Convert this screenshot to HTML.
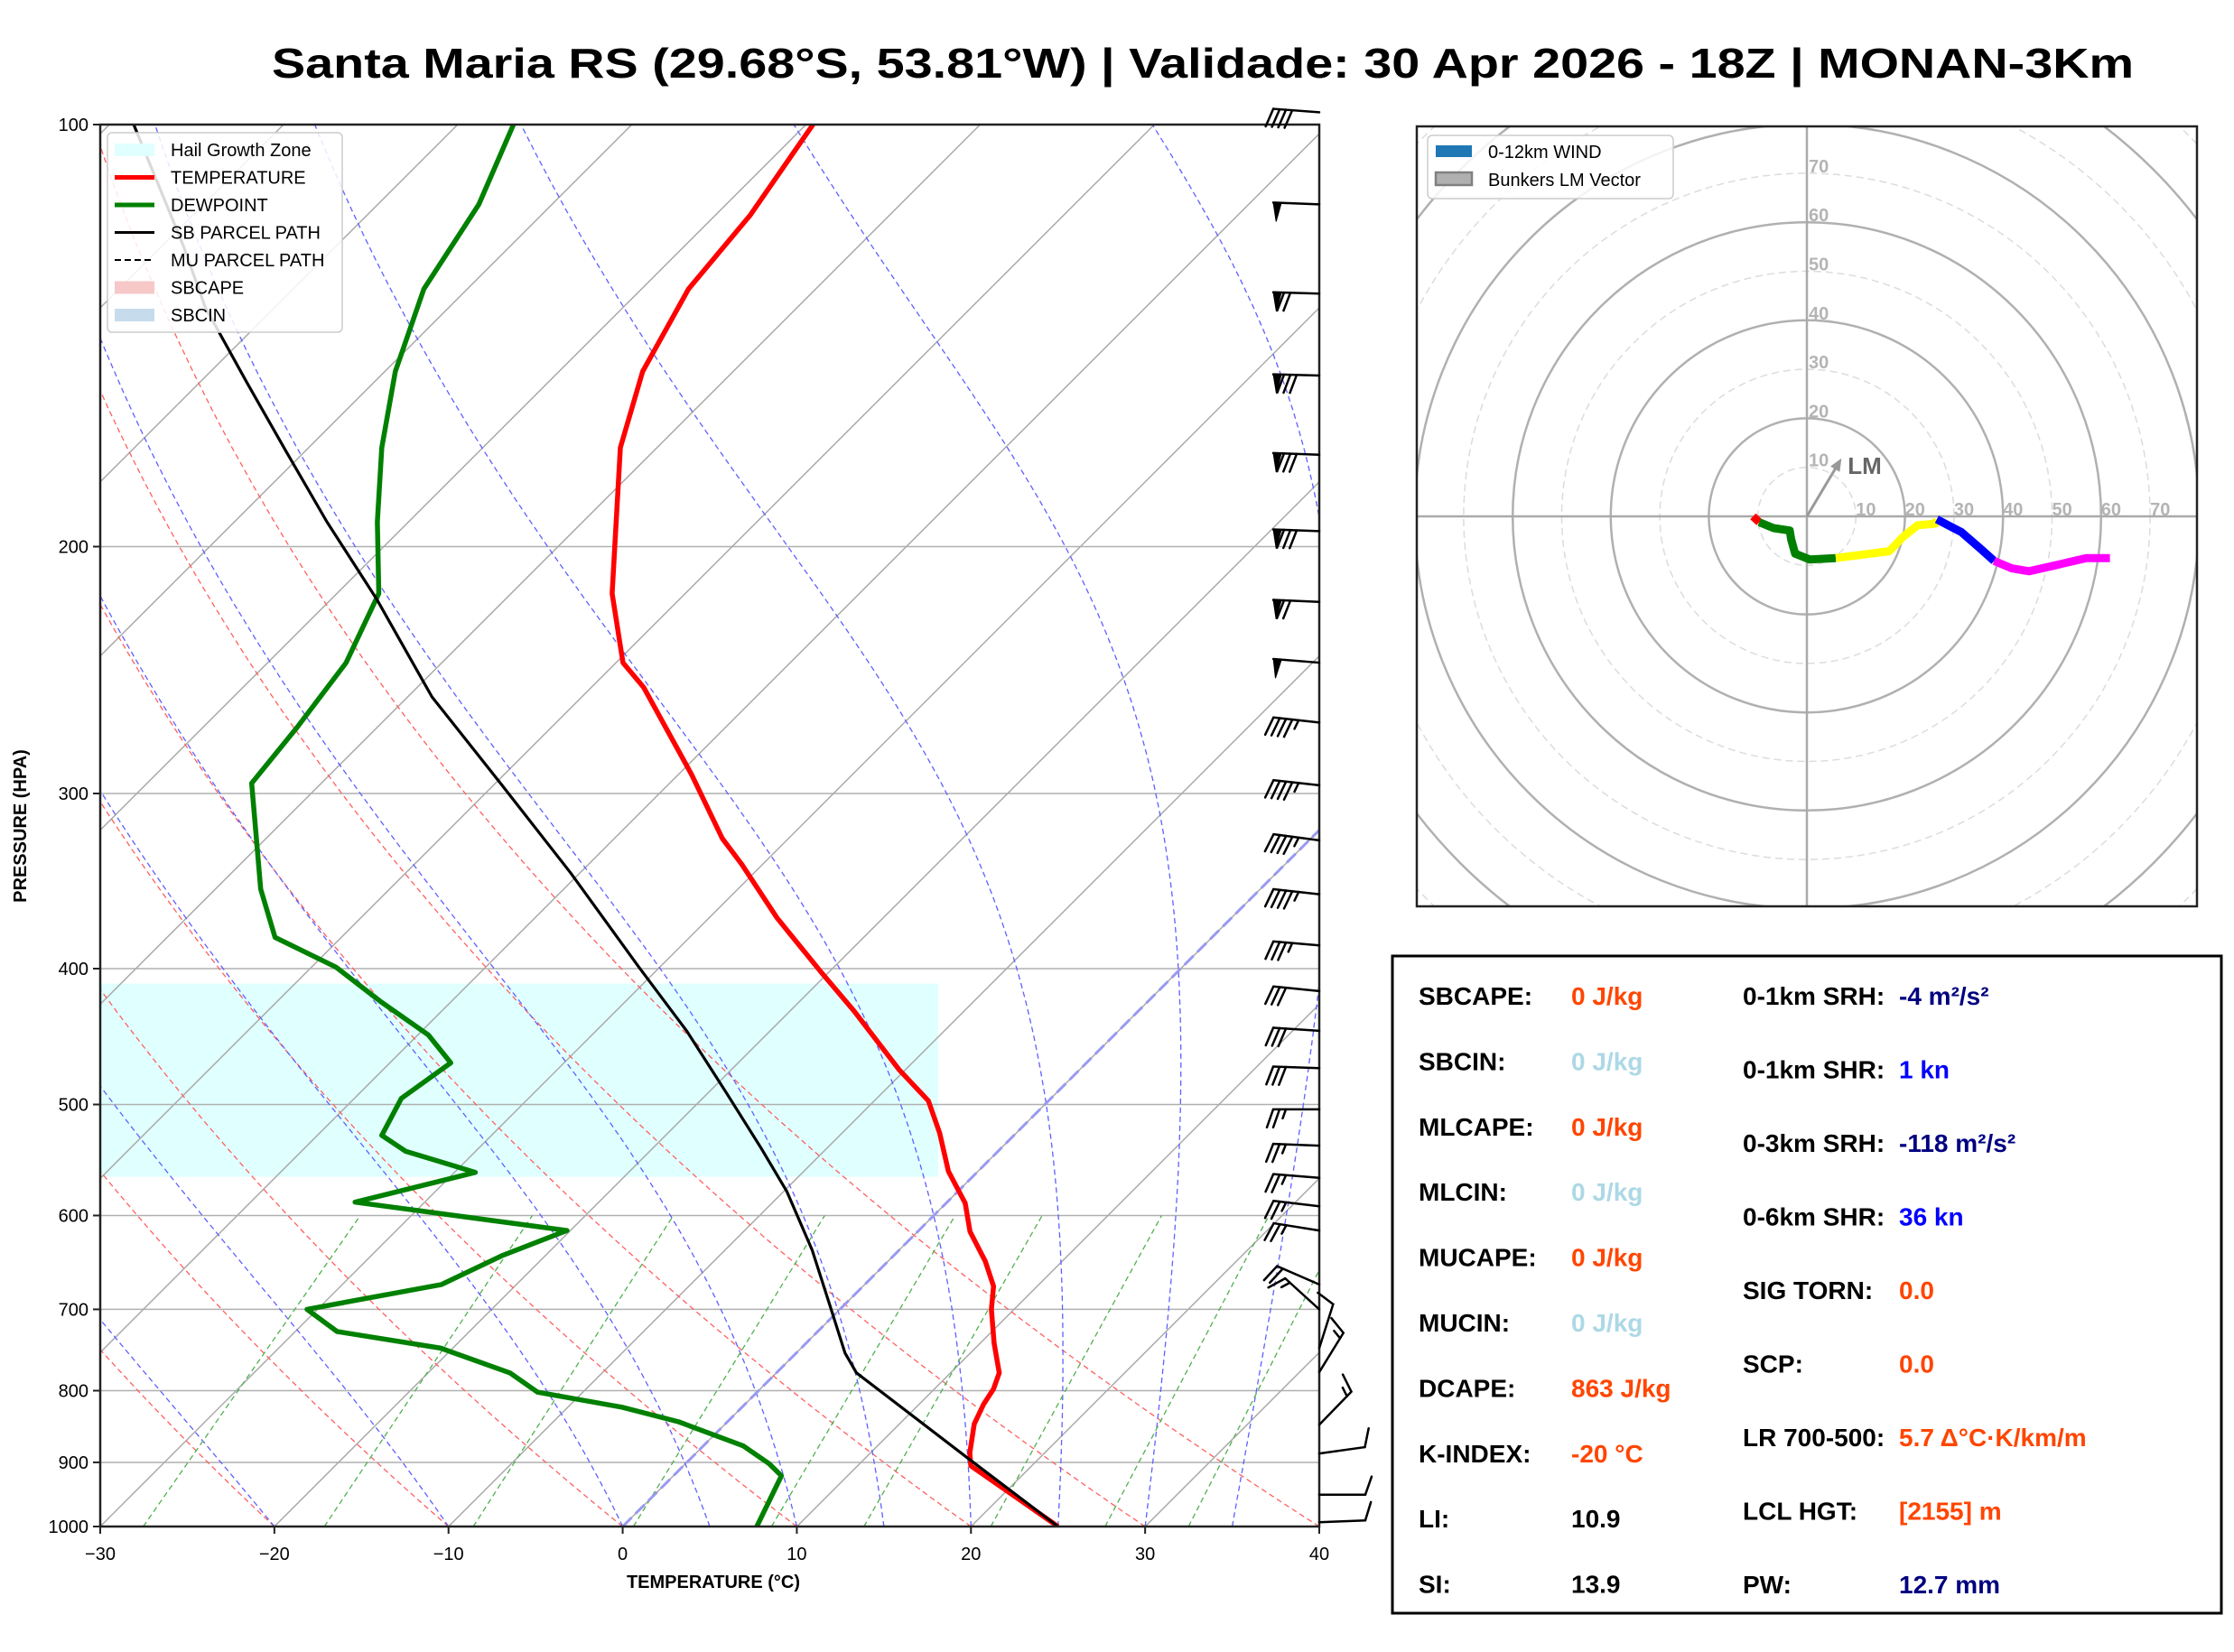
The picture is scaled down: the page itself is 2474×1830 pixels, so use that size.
<!DOCTYPE html>
<html><head><meta charset="utf-8"><style>
html,body{margin:0;padding:0;background:#fff;}
svg{display:block;font-family:"Liberation Sans","DejaVu Sans",sans-serif;}
</style></head><body>
<svg id="fig" width="2474" height="1830" viewBox="0 0 2474 1830" xmlns="http://www.w3.org/2000/svg">
<defs>
<clipPath id="skclip"><rect x="111" y="138" width="1350" height="1553"/></clipPath>
<clipPath id="hoclip"><rect x="1569" y="140" width="864" height="864"/></clipPath>
</defs>
<text x="301" y="86" font-size="46" font-weight="bold" textLength="2062" lengthAdjust="spacingAndGlyphs">Santa Maria RS (29.68°S, 53.81°W) | Validade: 30 Apr 2026 - 18Z | MONAN-3Km</text>
<g id="skew"></g>
<g id="hodo"></g>
<g id="table">
<rect x="1542" y="1059" width="918" height="728" fill="#fff" stroke="#000" stroke-width="3"/>
</g>
</svg>
<script>
// ---- data ----
const tempP=[1000,905,886,845,818,798,777,740,700,674,647,616,588,558,524,497,472,429,402,368,337,323,291,252,242,216,170,150,131,116,100];
const tempT=[25,16.5,15.7,14.3,13.7,13.4,12.8,10.8,8.7,7.5,5.6,3.0,1.1,-1.7,-4.4,-6.9,-10.4,-16.3,-20.5,-26.1,-31.2,-33.8,-39.2,-47.0,-49.6,-54.2,-62.1,-65.2,-67.3,-68.0,-69.6];
const dewP=[1000,920,902,876,842,822,802,777,746,726,700,672,641,615,587,559,540,526,495,467,446,422,399,380,351,295,269,242,216,192,170,150,131,114,100];
const dewT=[7.7,6.2,4.8,2.3,-2.8,-6.9,-12.6,-15.3,-20.7,-27.6,-30.6,-24.3,-22.5,-20.2,-34.0,-28.8,-34.0,-36.3,-37.3,-36.5,-39.4,-44.1,-48.6,-53.8,-57.4,-64.0,-64.6,-65.5,-67.6,-71.8,-75.8,-79.4,-82.5,-84.2,-86.8];
const parcelP=[1000,895,777,752,694,635,577,537,491,443,399,342,296,256,218,192,171,153,135,122,100];
const parcelT=[25,16.0,4.6,2.8,-0.9,-5.0,-9.8,-13.8,-18.9,-24.8,-31.2,-40.5,-49.5,-58.6,-67.4,-74.7,-81.1,-87.2,-94.0,-98.8,-108.6];
const barbP=[98,114,132,151,172,195,219,242,267,296,324,354,385,415,443,471,504,535,564,591,615,672,700,746,776,846,887,949,993];
const barbU=[40,50,70,80,80,80,70,50,45,45,45,45,35,30,30,30,25,25,25,25,25,18.4,11,-3,-8,-10.5,-10,-10,-10];
const barbV=[-3,-2,-2,-2,-3,-3,-3,-4,-5,-5,-6,-5,-3,-3,-2,-1,0,-1,-2,-3,-4,-8,-10,-9.5,-13,-10.8,-1.4,0,-0.4];
const pTicks=[100,200,300,400,500,600,700,800,900,1000];
const tTicks=[-30,-20,-10,0,10,20,30,40];
const hailTop=410, hailBot=563;
const hodoRed=[[-11,0],[-9.7,-1.2]];
const hodoGreen=[[-9.7,-1.2],[-6.8,-2.4],[-3.5,-2.9],[-3.2,-4.7],[-2.4,-7.6],[0.6,-8.8],[5.9,-8.5]];
const hodoYellow=[[5.9,-8.5],[16.8,-7.1],[19.7,-4.1],[22.6,-1.8],[26.2,-1.5],[26.5,-0.6]];
const hodoBlue=[[26.5,-0.6],[31.5,-3.2],[35.3,-6.5],[38.2,-9.1]];
const hodoMagenta=[[38.2,-9.1],[41.8,-10.6],[45.3,-11.2],[50.6,-10],[57,-8.5],[61.8,-8.5]];
const lmVec=[6.5,10.9];
const ringLabels=[10,20,30,40,50,60,70];

const NS="http://www.w3.org/2000/svg";
function mk(tag,attrs,parent){const e=document.createElementNS(NS,tag);for(const k in attrs)e.setAttribute(k,attrs[k]);parent.appendChild(e);return e;}
// ---- skew-T axes ----
const X0=111,X1=1461,Y0=138,Y1=1691,PXC=(X1-X0)/70,PH=Y1-Y0;
function yP(p){return Y1-PH*Math.log10(1000/p);}
function xTP(t,p){return X0+(t+30)*PXC+(Y1-yP(p));}
function pathTP(P,T){return P.map((p,i)=>(i?'L':'M')+xTP(T[i],p).toFixed(1)+','+yP(p).toFixed(1)).join('');}
const sk=document.getElementById('skew');
const bg=mk('g',{'clip-path':'url(#skclip)'},sk);


const hz=mk('rect',{x:X0,y:yP(hailTop),width:1039-X0,height:yP(hailBot)-yP(hailTop),fill:'#e0ffff'},bg);


pTicks.forEach(p=>{const l=mk('line',{x1:X0,x2:X1,y1:yP(p),y2:yP(p),stroke:'#b0b0b0','stroke-width':1.5},bg);

});
for(let t=-130;t<=40;t+=10){const l=mk('line',{x1:xTP(t,1000),y1:yP(1000),x2:xTP(t,100),y2:yP(100),stroke:'#aaa','stroke-width':1.5},bg);

}
const prs=[];for(let p=1000;p>=100;p-=10)prs.push(p);
for(let t0=-40;t0<=40;t0+=10){const T=prs.map(p=>(t0+273.15)*Math.pow(p/1000,0.2857)-273.15);
const l=mk('path',{d:pathTP(prs,T),fill:'none',stroke:'#ff6060','stroke-width':1.3,'stroke-dasharray':'6,4'},bg);

}
[-30,-20,-10,0,5,10,15,20,25,30,35,40,45].forEach(t0=>{let T=t0+273.15;const P=[],TT=[];
for(let p=1000;p>=100;p-=5){P.push(p);TT.push(T-273.15);
const es=6.112*Math.exp(17.67*(T-273.15)/(T-29.65));const rs=0.622*es/(p-es);
const d=(287*T+2.5e6*rs)/(1005+2.5e6*2.5e6*rs*0.622/(287*T*T))/p;T+=d*(-5);}
const l=mk('path',{d:pathTP(P,TT),fill:'none',stroke:'#6060ff','stroke-width':1.3,'stroke-dasharray':'6,4'},bg);

});
[0.0004,0.001,0.002,0.004,0.007,0.01,0.016,0.024,0.032].forEach(w=>{const P=[1000,600];
const T=P.map(p=>{const e=p*w/(0.622+w);const a=Math.log(e/6.112);return 243.5*a/(17.67-a);});
const l=mk('path',{d:pathTP(P,T),fill:'none',stroke:'#50b050','stroke-width':1.3,'stroke-dasharray':'6,4'},bg);

});
const z=mk('line',{x1:xTP(0,1000),y1:Y1,x2:xTP(0,100),y2:Y0,stroke:'#9a9af0','stroke-width':3,'stroke-dasharray':'14,6'},bg);


const tl=mk('path',{d:pathTP(tempP,tempT),fill:'none',stroke:'#ff0000','stroke-width':5.5,'stroke-linejoin':'round'},bg);


const dl=mk('path',{d:pathTP(dewP,dewT),fill:'none',stroke:'#008000','stroke-width':5.5,'stroke-linejoin':'round'},bg);


const pl=mk('path',{d:pathTP(parcelP,parcelT),fill:'none',stroke:'#000','stroke-width':3.2,'stroke-linejoin':'round'},bg);


const ml=mk('path',{d:pathTP(parcelP,parcelT),fill:'none',stroke:'#000','stroke-width':1.6,'stroke-dasharray':'6,4'},bg);


const fr=mk('rect',{x:X0,y:Y0,width:X1-X0,height:PH,fill:'none',stroke:'#222','stroke-width':2.5},sk);


pTicks.forEach(p=>{mk('line',{x1:X0-8,x2:X0,y1:yP(p),y2:yP(p),stroke:'#222','stroke-width':2},sk);
const t=mk('text',{x:98,y:yP(p)+7,'font-size':20,'text-anchor':'end'},sk);t.textContent=p;

});
tTicks.forEach(v=>{const x=X0+(v+30)*PXC;mk('line',{x1:x,x2:x,y1:Y1,y2:Y1+8,stroke:'#222','stroke-width':2},sk);
const t=mk('text',{x:x,y:1728,'font-size':20,'text-anchor':'middle'},sk);t.textContent=(v<0?'\u2212'+(-v):v);

});
const xl=mk('text',{x:790,y:1759,'font-size':20,'font-weight':'bold','text-anchor':'middle'},sk);xl.textContent='TEMPERATURE (°C)';


const yl=mk('text',{x:0,y:0,'font-size':20,'font-weight':'bold','text-anchor':'middle',transform:'translate(29,915) rotate(-90)'},sk);yl.textContent='PRESSURE (HPA)';


const lg=mk('g',{},sk);


mk('rect',{x:119,y:147,width:260,height:221,rx:5,fill:'#fff','fill-opacity':0.85,stroke:'#ccc','stroke-width':1.5},lg);
const leg=[['Hail Growth Zone','rect','#e0ffff'],['TEMPERATURE','line','#ff0000',5],['DEWPOINT','line','#008000',5],['SB PARCEL PATH','line','#000',3],['MU PARCEL PATH','dash','#000',2],['SBCAPE','rect','#f6c8c8'],['SBCIN','rect','#c6dcec']];
leg.forEach((e,i)=>{const y=166+i*30.5;
if(e[1]==='rect')mk('rect',{x:127,y:y-7,width:44,height:14,fill:e[2]},lg);
else mk('line',{x1:127,x2:171,y1:y,y2:y,stroke:e[2],'stroke-width':e[3],'stroke-dasharray':e[1]==='dash'?'7,4':'none'},lg);
const t=mk('text',{x:189,y:y+7,'font-size':20},lg);t.textContent=e[0];

});
const bw=mk('g',{stroke:'#000','stroke-width':2.5,fill:'#000','stroke-linecap':'round'},sk);


barbP.forEach((p,i)=>{const u=barbU[i],v=barbV[i];let s=Math.round(Math.hypot(u,v)/5)*5;
const m=Math.hypot(u,v)||1;const dx=-u/m,dy=v/m;const x0=X1,y0=yP(p);const L=51;
const ex=x0+dx*L,ey=y0+dy*L;const px=dy,py=-dx;
const g=mk('g',{},bw);


mk('line',{x1:x0,y1:y0,x2:ex,y2:ey},g);
let pos=0;
while(s>=50){const ax=ex-dx*pos,ay=ey-dy*pos;const bx=ax-dx*9,by=ay-dy*9;
mk('polygon',{points:`${ax},${ay} ${bx},${by} ${ax+px*21-dx*4},${ay+py*21-dy*4}`,'stroke-width':1},g);pos+=12;s-=50;}
while(s>=10){const ax=ex-dx*pos,ay=ey-dy*pos;mk('line',{x1:ax,y1:ay,x2:ax+px*20+dx*7,y2:ay+py*20+dy*7},g);pos+=7;s-=10;}
if(s>=5){if(pos===0)pos=7;const ax=ex-dx*pos,ay=ey-dy*pos;mk('line',{x1:ax,y1:ay,x2:ax+px*10+dx*3.5,y2:ay+py*10+dy*3.5},g);}
});
// ---- hodograph ----
const ho=document.getElementById('hodo');
const HX=2001,HY=572,KS=5.43;
const hc=mk('g',{'clip-path':'url(#hoclip)'},ho);
for(let r=10;r<=120;r+=10){const solid=(r%20===0);
const c=mk('circle',{cx:HX,cy:HY,r:r*KS,fill:'none',stroke:solid?'#b0b0b0':'#dcdcdc','stroke-width':solid?2.5:1.5,'stroke-dasharray':solid?'none':'8,5'},hc);

}
mk('line',{x1:1569,x2:2433,y1:HY,y2:HY,stroke:'#aaa','stroke-width':2.5},hc);
mk('line',{x1:HX,x2:HX,y1:140,y2:1004,stroke:'#aaa','stroke-width':2.5},hc);
ringLabels.forEach(r=>{let t=mk('text',{x:HX+r*KS,y:HY-1,'font-size':20,'font-weight':'bold',fill:'#b4b4b4'},ho);t.textContent=r;


t=mk('text',{x:HX+2,y:HY-r*KS-1,'font-size':20,'font-weight':'bold',fill:'#b4b4b4'},ho);t.textContent=r;

});
function hpath(a){return a.map((q,i)=>(i?'L':'M')+(HX+q[0]*KS).toFixed(1)+','+(HY-q[1]*KS).toFixed(1)).join('');}
[[hodoRed,'#ff0000','hodo-segment-0-1km'],[hodoGreen,'#008000','hodo-segment-low'],[hodoYellow,'#ffff00','hodo-segment-mid'],[hodoBlue,'#0000ff','hodo-segment-upper'],[hodoMagenta,'#ff00ff','hodo-segment-top']].forEach(s=>{
const l=mk('path',{d:hpath(s[0]),fill:'none',stroke:s[1],'stroke-width':9,'stroke-linejoin':'round'},hc);

});
const ax=HX+lmVec[0]*KS,ay=HY-lmVec[1]*KS;
const ar=mk('g',{},ho);


mk('line',{x1:HX,y1:HY,x2:ax,y2:ay,stroke:'#999','stroke-width':3},ar);
{const m=Math.hypot(lmVec[0],lmVec[1]);const ux=lmVec[0]/m,uy=-lmVec[1]/m;
mk('polygon',{points:`${ax+ux*6},${ay+uy*6} ${ax-ux*8-uy*6},${ay-uy*8+ux*6} ${ax-ux*8+uy*6},${ay-uy*8-ux*6}`,fill:'#999'},ar);}
const lm=mk('text',{x:ax+10,y:ay+12,'font-size':26,'font-weight':'bold',fill:'#666'},ho);lm.textContent='LM';


mk('rect',{x:1569,y:140,width:864,height:864,fill:'none',stroke:'#222','stroke-width':2.5},ho);
const hl=mk('g',{},ho);


mk('rect',{x:1581,y:150,width:272,height:70,rx:5,fill:'#fff','fill-opacity':0.85,stroke:'#ccc','stroke-width':1.5},hl);
mk('rect',{x:1590,y:161,width:40,height:13,fill:'#1f77b4'},hl);
mk('rect',{x:1590,y:191,width:40,height:14,fill:'#b0b0b0',stroke:'#808080','stroke-width':2.5},hl);
let t1=mk('text',{x:1648,y:175,'font-size':20},hl);t1.textContent='0-12km WIND';


t1=mk('text',{x:1648,y:206,'font-size':20},hl);t1.textContent='Bunkers LM Vector';


// ---- table ----
const tb=document.getElementById('table');
const O='#ff4500',LB='#add8e6',NV='#000080',BL='#0000ff';
const left=[['SBCAPE:','0 J/kg',O],['SBCIN:','0 J/kg',LB],['MLCAPE:','0 J/kg',O],['MLCIN:','0 J/kg',LB],['MUCAPE:','0 J/kg',O],['MUCIN:','0 J/kg',LB],['DCAPE:','863 J/kg',O],['K-INDEX:','-20 °C',O],['LI:','10.9','#000'],['SI:','13.9','#000']];
const right=[['0-1km SRH:','-4 m²/s²',NV],['0-1km SHR:','1 kn',BL],['0-3km SRH:','-118 m²/s²',NV],['0-6km SHR:','36 kn',BL],['SIG TORN:','0.0',O],['SCP:','0.0',O],['LR 700-500:','5.7 Δ°C·K/km/m',O],['LCL HGT:','[2155] m',O],['PW:','12.7 mm',NV]];
left.forEach((r,i)=>{const y=1113+i*72.4;
let t=mk('text',{x:1571,y:y,'font-size':28,'font-weight':'bold'},tb);t.textContent=r[0];


t=mk('text',{x:1740,y:y,'font-size':28,'font-weight':'bold',fill:r[2]},tb);t.textContent=r[1];

});
right.forEach((r,i)=>{const y=1113+i*81.5;
let t=mk('text',{x:1930,y:y,'font-size':28,'font-weight':'bold'},tb);t.textContent=r[0];


t=mk('text',{x:2103,y:y,'font-size':28,'font-weight':'bold',fill:r[2]},tb);t.textContent=r[1];

});
</script>
</body></html>
